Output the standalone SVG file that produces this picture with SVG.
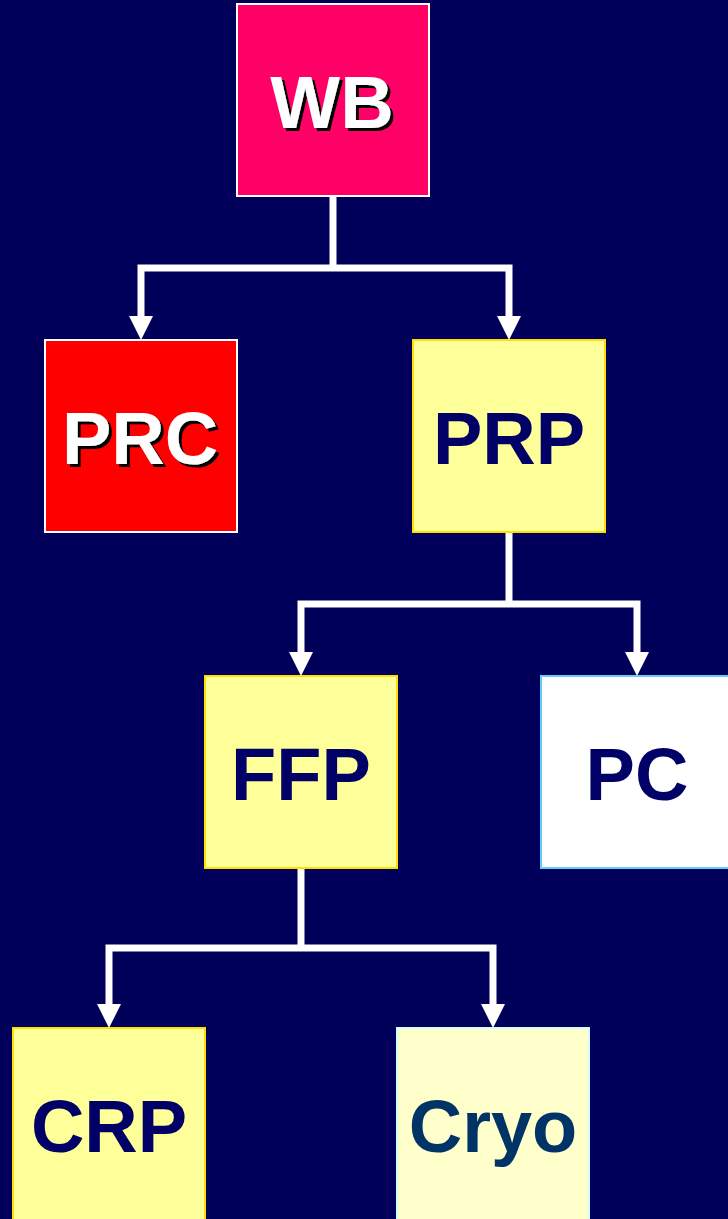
<svg xmlns="http://www.w3.org/2000/svg" width="728" height="1219" viewBox="0 0 728 1219">
<defs>
<filter id="shadow" x="-10%" y="-10%" width="130%" height="130%">
<feDropShadow dx="3" dy="3" stdDeviation="0.3" flood-color="#000000" flood-opacity="1"/>
</filter>
</defs>
<style>
.lbl{font-family:"Liberation Sans",Arial,sans-serif;font-weight:bold;font-size:74px;text-anchor:middle}
.wt{fill:#FFFFFF;filter:url(#shadow)}
.dk{fill:#000066}
.ln{fill:none;stroke:#FFFFFF;stroke-width:7;stroke-linejoin:miter}
.ah{fill:#FFFFFF}
</style>
<rect x="0" y="0" width="728" height="1219" fill="#00005A"/>
<g id="connectors">
<path class="ln" d="M333 197 V268"/>
<path class="ln" d="M141 318 V268 H509 V318"/>
<polygon class="ah" points="129,316 153,316 141,340"/>
<polygon class="ah" points="497,316 521,316 509,340"/>
<path class="ln" d="M509 532 V604"/>
<path class="ln" d="M301 654 V604 H637 V654"/>
<polygon class="ah" points="289,652 313,652 301,676"/>
<polygon class="ah" points="625,652 649,652 637,676"/>
<path class="ln" d="M301 868 V948"/>
<path class="ln" d="M109 1006 V948 H493 V1006"/>
<polygon class="ah" points="97,1004 121,1004 109,1028"/>
<polygon class="ah" points="481,1004 505,1004 493,1028"/>
</g>
<g id="WB">
<rect x="237" y="4" width="192" height="192" fill="#FF0066" stroke="#FFFFFF" stroke-width="2"/>
<text class="lbl wt" x="332" y="128">WB</text>
</g>
<g id="PRC">
<rect x="45" y="340" width="192" height="192" fill="#FF0000" stroke="#FFFFFF" stroke-width="2"/>
<text class="lbl wt" x="140" y="464">PRC</text>
</g>
<g id="PRP">
<rect x="413" y="340" width="192" height="192" fill="#FFFF99" stroke="#FFE000" stroke-width="2"/>
<text class="lbl dk" x="509" y="464">PRP</text>
</g>
<g id="FFP">
<rect x="205" y="676" width="192" height="192" fill="#FFFF99" stroke="#FFE000" stroke-width="2"/>
<text class="lbl dk" x="301" y="800">FFP</text>
</g>
<g id="PC">
<rect x="541" y="676" width="192" height="192" fill="#FFFFFF" stroke="#66CCFF" stroke-width="2"/>
<text class="lbl dk" x="637" y="800">PC</text>
</g>
<g id="CRP">
<rect x="13" y="1028" width="192" height="192" fill="#FFFF99" stroke="#FFE000" stroke-width="2"/>
<text class="lbl dk" x="109" y="1152">CRP</text>
</g>
<g id="Cryo">
<rect x="397" y="1028" width="192" height="192" fill="#FFFFCC" stroke="#CCFFFF" stroke-width="2"/>
<text class="lbl" x="493" y="1152" fill="#003366">Cryo</text>
</g>
</svg>
